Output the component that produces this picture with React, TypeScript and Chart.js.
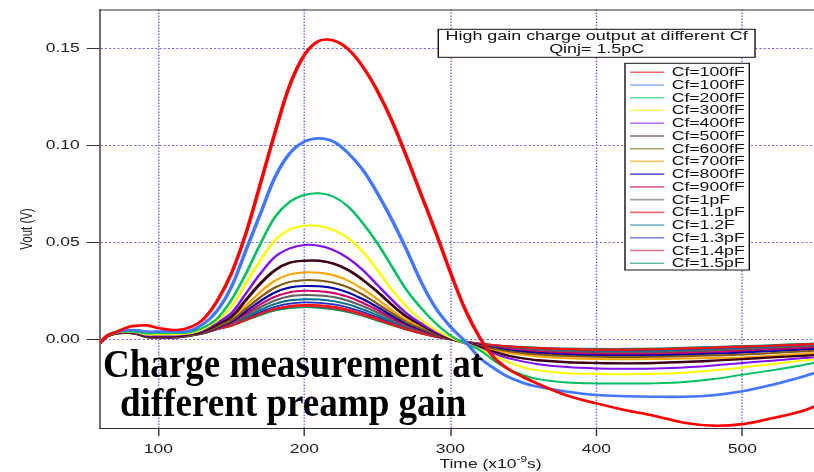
import React, { useEffect, useRef } from "react";
import { Chart, registerables } from "chart.js";

Chart.register(...registerables);

// ---------------- data ----------------
const TIMES = [60, 65, 72, 80, 86, 92, 100, 110, 120, 130, 140, 150, 160, 170, 180, 190, 200, 210, 220, 230, 240, 250, 260, 270, 280, 290, 300, 310, 320, 330, 340, 350, 360, 380, 400, 420, 440, 460, 480, 500, 520, 540, 550];

const CF_100A = [-0.002, 0.002, 0.004, 0.0065, 0.007, 0.0072, 0.0058, 0.0048, 0.0058, 0.0098, 0.0195, 0.034, 0.0548, 0.0806, 0.107, 0.131, 0.1466, 0.1538, 0.154, 0.1495, 0.1405, 0.128, 0.1125, 0.094, 0.0745, 0.055, 0.0345, 0.0155, 0.001, -0.0095, -0.0155, -0.0195, -0.023, -0.029, -0.033, -0.0365, -0.0395, -0.043, -0.0445, -0.0437, -0.0407, -0.0372, -0.0345];
const CF_100B = [-0.002, 0.002, 0.004, 0.0048, 0.0046, 0.004, 0.004, 0.0042, 0.0042, 0.0075, 0.0145, 0.027, 0.046, 0.065, 0.0838, 0.0959, 0.1019, 0.1036, 0.1019, 0.0959, 0.0873, 0.0753, 0.0615, 0.046, 0.0295, 0.016, 0.0065, -0.001, -0.0095, -0.015, -0.0195, -0.0225, -0.0245, -0.027, -0.0287, -0.0293, -0.0296, -0.0296, -0.0288, -0.0268, -0.0235, -0.0195, -0.0172];
const CF_200 = [-0.002, 0.002, 0.0038, 0.0042, 0.0038, 0.003, 0.0032, 0.0032, 0.0035, 0.0058, 0.0105, 0.0203, 0.034, 0.0495, 0.0632, 0.0709, 0.0744, 0.0753, 0.0735, 0.0684, 0.0598, 0.0495, 0.0374, 0.0254, 0.016, 0.0082, 0.002, -0.002, -0.0055, -0.011, -0.0155, -0.0185, -0.0205, -0.0222, -0.0227, -0.0228, -0.0227, -0.022, -0.0205, -0.0182, -0.016, -0.0135, -0.012];
const CF_300 = [-0.002, 0.0018, 0.0036, 0.004, 0.0035, 0.0025, 0.0025, 0.0025, 0.003, 0.005, 0.0095, 0.0168, 0.0289, 0.0409, 0.0512, 0.0567, 0.0586, 0.0584, 0.0563, 0.0521, 0.0452, 0.0357, 0.0254, 0.0168, 0.0099, 0.0048, 0.001, -0.002, -0.005, -0.0085, -0.0118, -0.0145, -0.016, -0.0175, -0.0178, -0.018, -0.0178, -0.0172, -0.016, -0.0145, -0.0128, -0.011, -0.0102];
const CF_400 = [-0.002, 0.0018, 0.0035, 0.0038, 0.0032, 0.002, 0.002, 0.002, 0.0028, 0.0045, 0.0085, 0.0135, 0.0237, 0.034, 0.0426, 0.0469, 0.0486, 0.0482, 0.046, 0.0418, 0.0357, 0.028, 0.0203, 0.0134, 0.0082, 0.0039, 0.0008, -0.002, -0.0045, -0.0075, -0.0098, -0.0115, -0.0128, -0.0143, -0.015, -0.0152, -0.015, -0.0145, -0.0135, -0.0122, -0.011, -0.0098, -0.0093];
const CF_500 = [-0.002, 0.0017, 0.0034, 0.0036, 0.003, 0.0017, 0.0016, 0.0016, 0.0025, 0.004, 0.0075, 0.0117, 0.0203, 0.0289, 0.0357, 0.0395, 0.0405, 0.0405, 0.039, 0.0357, 0.0306, 0.0245, 0.0177, 0.0117, 0.0074, 0.0034, 0.0005, -0.002, -0.004, -0.0065, -0.0085, -0.0098, -0.0108, -0.0118, -0.0122, -0.0124, -0.0122, -0.0117, -0.011, -0.0102, -0.0093, -0.0085, -0.0081];
const CF_600 = [-0.002, 0.0016, 0.0033, 0.0035, 0.0028, 0.0015, 0.0013, 0.0012, 0.002, 0.0034, 0.0063, 0.0098, 0.0158, 0.0218, 0.0268, 0.0296, 0.0305, 0.0303, 0.0292, 0.0268, 0.023, 0.0184, 0.0134, 0.0088, 0.0055, 0.0025, 0.0003, -0.0017, -0.0033, -0.0049, -0.0062, -0.0071, -0.0078, -0.0086, -0.009, -0.0091, -0.009, -0.0087, -0.0083, -0.0078, -0.0071, -0.0063, -0.0059];
const CF_700 = [-0.002, 0.0016, 0.0033, 0.0035, 0.0029, 0.0016, 0.0014, 0.0013, 0.0022, 0.0036, 0.0068, 0.0105, 0.0175, 0.0245, 0.0303, 0.0335, 0.0345, 0.0343, 0.033, 0.0302, 0.0259, 0.0207, 0.015, 0.0099, 0.0062, 0.0028, 0.0004, -0.0018, -0.0036, -0.0055, -0.007, -0.008, -0.0088, -0.0097, -0.0102, -0.0103, -0.0102, -0.0099, -0.0096, -0.0093, -0.0085, -0.0075, -0.007];
const CF_800 = [-0.002, 0.0016, 0.0032, 0.0035, 0.0028, 0.0014, 0.0012, 0.0011, 0.0019, 0.0033, 0.006, 0.0092, 0.0145, 0.0198, 0.0242, 0.0267, 0.0275, 0.0273, 0.0263, 0.0241, 0.0207, 0.0166, 0.0121, 0.008, 0.005, 0.0023, 0.0002, -0.0016, -0.003, -0.0045, -0.0056, -0.0064, -0.007, -0.0078, -0.0082, -0.0083, -0.0082, -0.0079, -0.0074, -0.0068, -0.0061, -0.0054, -0.005];
const CF_900 = [-0.002, 0.0015, 0.0032, 0.0034, 0.0027, 0.0013, 0.0011, 0.001, 0.0019, 0.0032, 0.0057, 0.0086, 0.0133, 0.0181, 0.022, 0.0243, 0.025, 0.0248, 0.0239, 0.0219, 0.0188, 0.0151, 0.011, 0.0073, 0.0045, 0.0021, 0.0002, -0.0015, -0.0028, -0.0041, -0.0051, -0.0058, -0.0064, -0.0071, -0.0075, -0.0076, -0.0075, -0.0071, -0.0066, -0.006, -0.0053, -0.0046, -0.0042];
const CF_1P0 = [-0.002, 0.0015, 0.0032, 0.0034, 0.0027, 0.0013, 0.001, 0.0009, 0.0018, 0.0031, 0.0055, 0.0081, 0.0123, 0.0166, 0.0201, 0.0222, 0.0228, 0.0226, 0.0218, 0.0199, 0.0171, 0.0138, 0.01, 0.0067, 0.0041, 0.0019, 0.0001, -0.0014, -0.0026, -0.0037, -0.0046, -0.0053, -0.0058, -0.0065, -0.0068, -0.0069, -0.0068, -0.0064, -0.0059, -0.0053, -0.0047, -0.004, -0.0036];
const CF_1P1 = [-0.002, 0.0015, 0.0031, 0.0033, 0.0026, 0.0012, 0.0009, 0.0008, 0.0017, 0.003, 0.0052, 0.0071, 0.0101, 0.0133, 0.0158, 0.0173, 0.0178, 0.0176, 0.0168, 0.0153, 0.0131, 0.0106, 0.0078, 0.0053, 0.0032, 0.0014, 0.0, -0.0012, -0.0022, -0.003, -0.0037, -0.0042, -0.0046, -0.0051, -0.0054, -0.0054, -0.0052, -0.0048, -0.0044, -0.0039, -0.0034, -0.0028, -0.0025];
const CF_1P2 = [-0.002, 0.0015, 0.0031, 0.0034, 0.0027, 0.0012, 0.001, 0.0009, 0.0018, 0.003, 0.0053, 0.0077, 0.0114, 0.0152, 0.0183, 0.0201, 0.0207, 0.0205, 0.0197, 0.018, 0.0154, 0.0124, 0.0091, 0.0061, 0.0037, 0.0017, 0.0001, -0.0013, -0.0024, -0.0034, -0.0042, -0.0048, -0.0053, -0.0059, -0.0062, -0.0063, -0.0061, -0.0058, -0.0053, -0.0047, -0.0041, -0.0035, -0.0031];
const CF_1P3 = [-0.002, 0.0015, 0.0031, 0.0033, 0.0026, 0.0012, 0.0009, 0.0008, 0.0017, 0.003, 0.0052, 0.0074, 0.0107, 0.0141, 0.0168, 0.0184, 0.019, 0.0188, 0.018, 0.0164, 0.0141, 0.0113, 0.0083, 0.0056, 0.0034, 0.0015, 0.0, -0.0012, -0.0023, -0.0032, -0.0039, -0.0045, -0.0049, -0.0055, -0.0058, -0.0058, -0.0056, -0.0052, -0.0048, -0.0042, -0.0036, -0.003, -0.0027];
const CF_1P4 = [-0.002, 0.0015, 0.003, 0.0033, 0.0026, 0.0011, 0.0009, 0.0008, 0.0017, 0.003, 0.0052, 0.0072, 0.0102, 0.0132, 0.0155, 0.0168, 0.0172, 0.0169, 0.0161, 0.0146, 0.0125, 0.0101, 0.0075, 0.0051, 0.0031, 0.0013, 0.0, -0.0012, -0.0022, -0.003, -0.0036, -0.0041, -0.0044, -0.0049, -0.0052, -0.0052, -0.005, -0.0046, -0.0042, -0.0037, -0.0032, -0.0026, -0.0023];
const CF_1P5 = [-0.002, 0.0015, 0.003, 0.0032, 0.0025, 0.0011, 0.0008, 0.0007, 0.0016, 0.003, 0.0052, 0.007, 0.0098, 0.0126, 0.0149, 0.0162, 0.0166, 0.0163, 0.0155, 0.0141, 0.0121, 0.0097, 0.0073, 0.005, 0.003, 0.0013, 0.0, -0.0012, -0.0022, -0.003, -0.0036, -0.004, -0.0043, -0.0047, -0.0049, -0.0049, -0.0047, -0.0043, -0.0039, -0.0035, -0.003, -0.0024, -0.0021];

const SERIES_LABELS = ["Cf=100fF", "Cf=100fF", "Cf=200fF", "Cf=300fF", "Cf=400fF", "Cf=500fF", "Cf=600fF", "Cf=700fF", "Cf=800fF", "Cf=900fF", "Cf=1pF", "Cf=1.1pF", "Cf=1.2F", "Cf=1.3pF", "Cf=1.4pF", "Cf=1.5pF"];
const SERIES_VALUES = [CF_100A, CF_100B, CF_200, CF_300, CF_400, CF_500, CF_600, CF_700, CF_800, CF_900, CF_1P0, CF_1P1, CF_1P2, CF_1P3, CF_1P4, CF_1P5];
const SERIES_COLORS = ["#ff0000", "#4477ff", "#00c060", "#ffff00", "#8010ee", "#3c0014", "#805a10", "#ffa500", "#0000a8", "#cc0066", "#606060", "#ff1010", "#007090", "#2030c0", "#e02040", "#009050"];
const SERIES_WIDTHS = [2.6, 2.6, 2, 2, 2, 2.4, 2, 2, 2, 2, 2, 1.8, 2, 1.8, 1.8, 2];

const X_TICKS = [100, 200, 300, 400, 500];
const Y_TICKS = [0, 0.05, 0.1, 0.15];
const TITLE_LINES = ["High gain charge output at different Cf", "Qinj= 1.5pC"];
const NOTE_LINES = ["Charge measurement at", "different preamp gain"];
const X_TITLE = { main: "Time (x10", sup: "-9", tail: "s)" };
const Y_TITLE = "Vout (V)";

// ---------------- layout ----------------
const REAL_W = 814;
const LOGICAL_W = 582;
const H = 472;
const SX = REAL_W / LOGICAL_W; // the original plot is stretched horizontally
const SANS = "'Liberation Sans', Arial, Helvetica, sans-serif";
const SERIF = "'Liberation Serif', 'Times New Roman', serif";
const L = (realX: number) => realX / SX;

const decorPlugin = {
  id: "decor",
  beforeDraw(chart: any) {
    const ctx = chart.ctx as CanvasRenderingContext2D;
    ctx.save();
    ctx.setTransform(SX, 0, 0, 1, 0, 0);
    ctx.fillStyle = "#ffffff";
    ctx.fillRect(0, 0, LOGICAL_W, H);
  },
  afterDraw(chart: any) {
    const ctx = chart.ctx as CanvasRenderingContext2D;
    const a = chart.chartArea;

    // top frame line
    ctx.save();
    ctx.strokeStyle = "#333";
    ctx.lineWidth = 1;
    ctx.beginPath();
    ctx.moveTo(a.left, a.top + 0.5);
    ctx.lineTo(a.right, a.top + 0.5);
    ctx.stroke();
    ctx.restore();

    // title box
    ctx.save();
    const tx0 = L(438.3), tx1 = L(755), ty0 = 29.3, ty1 = 57.3;
    ctx.fillStyle = "#fff";
    ctx.fillRect(tx0, ty0, tx1 - tx0, ty1 - ty0);
    ctx.strokeStyle = "#111";
    ctx.lineWidth = 1;
    ctx.strokeRect(tx0, ty0, tx1 - tx0, ty1 - ty0);
    ctx.fillStyle = "#111";
    ctx.font = `12.8px ${SANS}`;
    ctx.textAlign = "center";
    ctx.textBaseline = "middle";
    const cx = (tx0 + tx1) / 2;
    ctx.fillText(TITLE_LINES[0], cx, 36.6);
    ctx.fillText(TITLE_LINES[1], cx, 49.6);
    ctx.restore();

    // legend box
    ctx.save();
    const lx0 = L(625), lx1 = L(749.3), ly0 = 63.3, ly1 = 270;
    ctx.fillStyle = "#fff";
    ctx.fillRect(lx0, ly0, lx1 - lx0, ly1 - ly0);
    ctx.strokeStyle = "#111";
    ctx.lineWidth = 1;
    ctx.strokeRect(lx0, ly0, lx1 - lx0, ly1 - ly0);
    ctx.font = `12.6px ${SANS}`;
    ctx.textAlign = "left";
    ctx.textBaseline = "middle";
    SERIES_LABELS.forEach((lab, i) => {
      const y = 72.3 + i * 12.73;
      ctx.save();
      ctx.globalAlpha = 0.6;
      ctx.strokeStyle = SERIES_COLORS[i];
      ctx.lineWidth = 1.6;
      ctx.beginPath();
      ctx.moveTo(L(630), y);
      ctx.lineTo(L(664.3), y);
      ctx.stroke();
      ctx.restore();
      ctx.fillStyle = "#111";
      ctx.fillText(lab, L(671.7), y + 0.5);
    });
    ctx.restore();

    // y axis title
    ctx.save();
    ctx.translate(L(27.5), 229);
    ctx.rotate(-Math.PI / 2);
    ctx.font = `11.5px ${SANS}`;
    ctx.fillStyle = "#222";
    ctx.textAlign = "center";
    ctx.textBaseline = "middle";
    ctx.fillText(Y_TITLE, 0, 0);
    ctx.restore();

    // x axis title with superscript
    ctx.save();
    ctx.fillStyle = "#222";
    ctx.textBaseline = "middle";
    ctx.textAlign = "left";
    const mainFont = `12.5px ${SANS}`;
    const supFont = `8.5px ${SANS}`;
    ctx.font = mainFont;
    const w1 = ctx.measureText(X_TITLE.main).width;
    const w3 = ctx.measureText(X_TITLE.tail).width;
    ctx.font = supFont;
    const w2 = ctx.measureText(X_TITLE.sup).width;
    let x = L(490.5) - (w1 + w2 + w3) / 2;
    ctx.font = mainFont;
    ctx.fillText(X_TITLE.main, x, 464.5);
    x += w1;
    ctx.font = supFont;
    ctx.fillText(X_TITLE.sup, x, 459.5);
    x += w2;
    ctx.font = mainFont;
    ctx.fillText(X_TITLE.tail, x, 464.5);
    ctx.restore();

    ctx.restore(); // end of the horizontal stretch

    // overlay annotation in real pixels
    ctx.save();
    ctx.fillStyle = "#000";
    ctx.font = `bold 39px ${SERIF}`;
    ctx.textAlign = "left";
    ctx.textBaseline = "alphabetic";
    ctx.save();
    ctx.translate(103, 376.7);
    ctx.scale(0.95, 1);
    ctx.fillText(NOTE_LINES[0], 0, 0);
    ctx.restore();
    ctx.save();
    ctx.translate(120, 416);
    ctx.scale(0.95, 1);
    ctx.fillText(NOTE_LINES[1], 0, 0);
    ctx.restore();
    ctx.restore();
  },
};

export default function App() {
  const ref = useRef<HTMLCanvasElement | null>(null);

  useEffect(() => {
    const canvas = ref.current;
    if (!canvas) return;
    canvas.width = LOGICAL_W;
    canvas.height = H;

    const datasets = SERIES_LABELS.map((label, i) => ({
      label,
      data: TIMES.map((t, j) => ({ x: t, y: SERIES_VALUES[i][j] })),
      borderColor: SERIES_COLORS[i],
      backgroundColor: SERIES_COLORS[i],
      borderWidth: SERIES_WIDTHS[i],
      pointRadius: 0,
      fill: false,
      tension: 0.35,
    }));

    const gridColor = "#6a6aff";
    const chart = new Chart(canvas, {
      type: "line",
      data: { datasets },
      plugins: [decorPlugin],
      options: {
        animation: false,
        responsive: false,
        devicePixelRatio: 1,
        events: [],
        layout: { padding: { top: 9.5, left: 0, right: 0, bottom: 0 } },
        plugins: {
          legend: { display: false },
          tooltip: { enabled: false },
          title: { display: false },
        },
        scales: {
          x: {
            type: "linear",
            min: 60,
            max: 549,
            afterBuildTicks: (s: any) => {
              s.ticks = X_TICKS.map((v) => ({ value: v }));
            },
            afterFit: (s: any) => {
              s.height = 44;
              s.paddingLeft = 0;
              s.paddingRight = 0;
            },
            grid: { color: gridColor, lineWidth: 1, drawTicks: true, tickLength: 8, tickColor: "#333", tickWidth: 1 },
            border: { display: true, color: "#333", width: 1, dash: [1.5, 1.5] },
            ticks: {
              font: { family: SANS, size: 12.5 },
              color: "#222",
              padding: 6,
              maxRotation: 0,
              autoSkip: false,
              callback: (v: any) => String(v),
            },
          },
          y: {
            type: "linear",
            min: -0.0457,
            max: 0.17,
            afterBuildTicks: (s: any) => {
              s.ticks = Y_TICKS.map((v) => ({ value: v }));
            },
            afterFit: (s: any) => {
              s.width = L(100);
              s.paddingTop = 0;
              s.paddingBottom = 0;
            },
            grid: { color: gridColor, lineWidth: 1, drawTicks: true, tickLength: 9.5, tickColor: "#333", tickWidth: 1 },
            border: { display: true, color: "#333", width: 1, dash: [1.5, 1.5] },
            ticks: {
              font: { family: SANS, size: 12.5 },
              color: "#222",
              padding: 5,
              autoSkip: false,
              callback: (v: any) => Number(v).toFixed(2),
            },
          },
        },
      } as any,
    });

    // widen the backing store and redraw with the horizontal stretch
    canvas.width = REAL_W;
    canvas.height = H;
    canvas.style.width = REAL_W + "px";
    canvas.style.height = H + "px";
    chart.draw();

    return () => {
      chart.destroy();
    };
  }, []);

  return (
    <div style={{ position: "absolute", left: 0, top: 0, width: REAL_W, height: H, background: "#fff" }}>
      <canvas ref={ref} width={LOGICAL_W} height={H} style={{ display: "block" }} />
    </div>
  );
}
